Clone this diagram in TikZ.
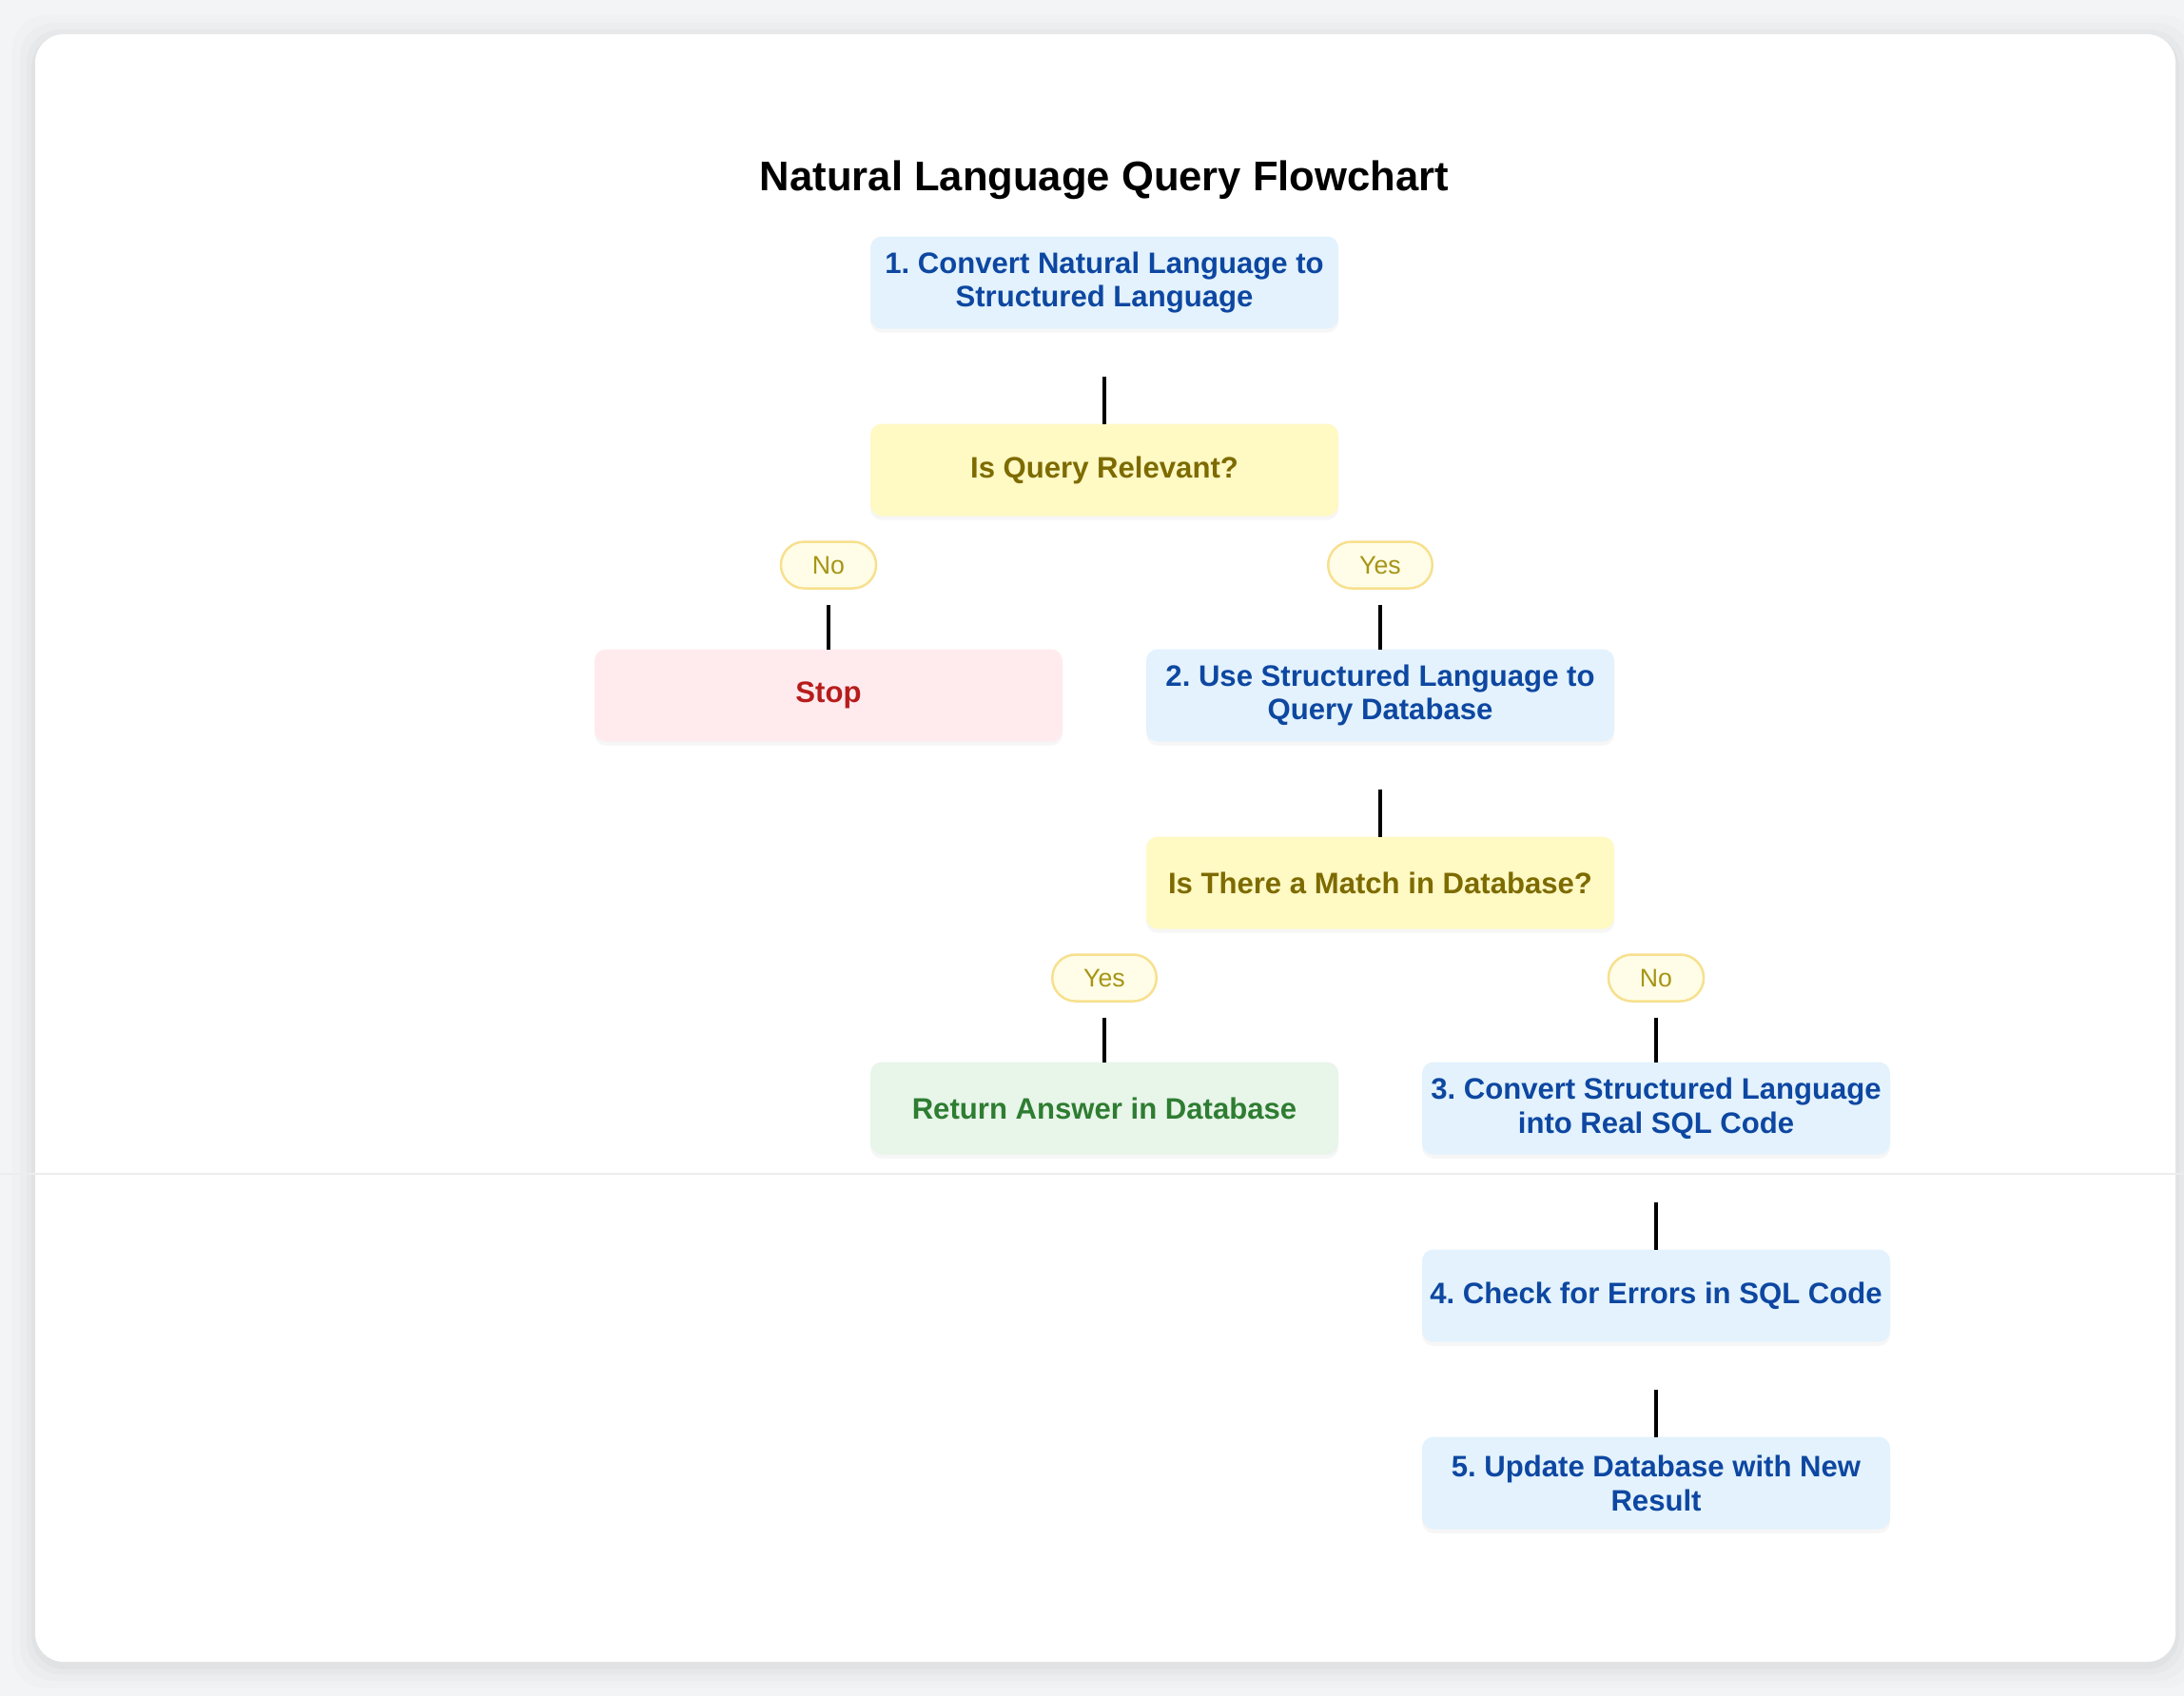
\documentclass[tikz,border=0pt]{standalone}
\usepackage{fontspec}
\setmainfont{Liberation Sans}
\usepackage{tikz}
\usetikzlibrary{positioning, shadows}
\frenchspacing

\definecolor{pageGray}{HTML}{F3F4F6}
\definecolor{stepFill}{HTML}{E3F2FD}
\definecolor{stepText}{HTML}{0D47A1}
\definecolor{askFill}{HTML}{FFF9C4}
\definecolor{askText}{HTML}{7D6B00}
\definecolor{stopFill}{HTML}{FFEBEE}
\definecolor{stopText}{HTML}{B71C1C}
\definecolor{doneFill}{HTML}{E8F5E9}
\definecolor{doneText}{HTML}{2E7D32}
\definecolor{tagFill}{HTML}{FFFDE7}
\definecolor{tagLine}{HTML}{F7E08E}
\definecolor{tagText}{HTML}{A69517}

\begin{document}
\begin{tikzpicture}[y=-1cm,
    box/.style={rectangle, rounded corners=0.12cm, minimum width=4.92cm, minimum height=0.97cm,
        inner xsep=2pt, outer sep=0pt, align=center, font=\bfseries\fontsize{8.85}{10.2}\selectfont,
        drop shadow={opacity=0.07, shadow xshift=0pt, shadow yshift=-1.2pt}},
    stepbox/.style={box, fill=stepFill, text=stepText},
    askbox/.style={box, fill=askFill, text=askText},
    stopbox/.style={box, fill=stopFill, text=stopText},
    donebox/.style={box, fill=doneFill, text=doneText},
    tag/.style={rectangle, rounded corners=0.245cm, minimum height=0.49cm, inner xsep=0.33cm, outer sep=0pt,
        fill=tagFill, draw=tagLine, line width=0.7pt, text=tagText, font=\fontsize{7.6}{9}\selectfont},
    link/.style={line width=1.4pt}]

    % Page and card
    \useasboundingbox (0,0) rectangle (22.96,17.83);
    \fill[pageGray] (0,0) rectangle (22.96,17.83);
    \foreach \d/\o in {0.24/0.012, 0.16/0.016, 0.09/0.02, 0.04/0.025}
        \fill[black, opacity=\o, rounded corners=0.35cm] ({0.37-\d},{0.36-\d+0.04}) rectangle ({22.87+\d},{17.47+\d+0.04});
    \fill[white, rounded corners=0.3cm] (0.37,0.36) rectangle (22.87,17.47);
    \draw[line width=0.8pt, black!7] (0,12.34) -- (22.96,12.34);

    % Title
    \node[font=\bfseries\fontsize{12.4}{15}\selectfont] (title) at (11.61,1.89) {Natural Language Query Flowchart};

    % First question
    \node[stepbox] (convert) at (11.61,2.97) {1. Convert Natural Language to\\Structured Language};
    \node[askbox, below=1.0cm of convert] (relevant) {Is Query Relevant?};
    \node[tag, below=0.27cm of relevant, xshift=-2.9cm] (relNo) {No};
    \node[tag, below=0.27cm of relevant, xshift=2.9cm] (relYes) {Yes};
    \node[stopbox, below=0.64cm of relNo] (stop) {Stop};
    \node[stepbox, below=0.64cm of relYes] (query) {2. Use Structured Language to\\Query Database};

    % Second question
    \node[askbox, below=1.0cm of query] (match) {Is There a Match in Database?};
    \node[tag, below=0.27cm of match, xshift=-2.9cm] (matchYes) {Yes};
    \node[tag, below=0.27cm of match, xshift=2.9cm] (matchNo) {No};
    \node[donebox, below=0.64cm of matchYes] (answer) {Return Answer in Database};
    \node[stepbox, below=0.64cm of matchNo] (sqlcode) {3. Convert Structured Language\\into Real SQL Code};
    \node[stepbox, below=1.0cm of sqlcode] (check) {4. Check for Errors in SQL Code};
    \node[stepbox, below=1.0cm of check] (update) {5. Update Database with New\\Result};

    % Connectors
    \foreach \a/\b in {convert/relevant, query/match, sqlcode/check, check/update}
        \draw[link, shorten <=0.5cm] (\a) -- (\b);
    \foreach \a/\b in {relNo/stop, relYes/query, matchYes/answer, matchNo/sqlcode}
        \draw[link, shorten <=0.17cm] (\a) -- (\b);

\end{tikzpicture}
\end{document}
